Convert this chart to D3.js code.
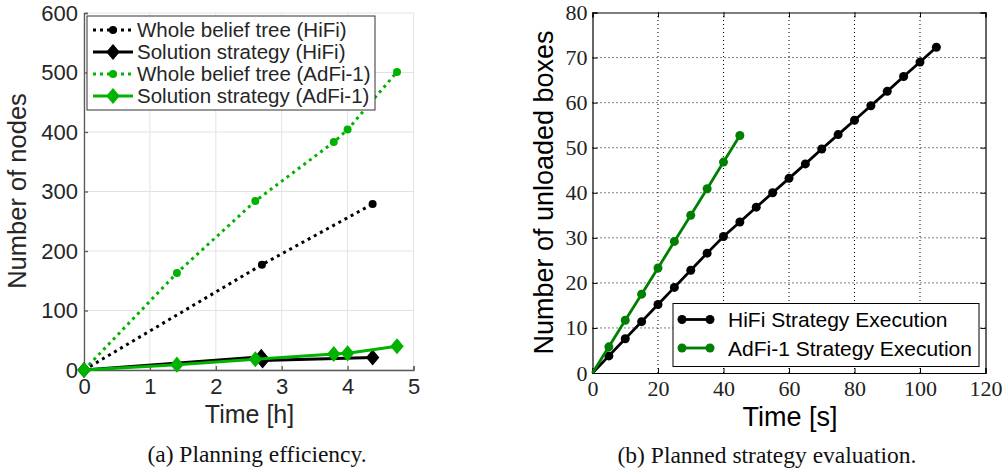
<!DOCTYPE html>
<html>
<head>
<meta charset="utf-8">
<title>Planning efficiency and strategy evaluation</title>
<script src="https://cdnjs.cloudflare.com/ajax/libs/d3/7.8.5/d3.min.js"></script>
<style>
  body { margin: 0; background: #fff; }
  svg { display: block; }
  .sans { font-family: "Liberation Sans", Arial, sans-serif; }
  .serif { font-family: "Liberation Serif", "Times New Roman", serif; }
</style>
</head>
<body>
<script>
// ---- panel (a) data: time [h] vs number of nodes
var hifiTreeT = [0, 2.7, 4.38];
var hifiTreeN = [0, 177, 279];
var hifiSolT = [0, 2.69, 2.71, 4.38];
var hifiSolN = [0, 22, 16, 21];
var adfiTreeT = [0, 1.41, 2.6, 3.79, 4.0, 4.75];
var adfiTreeN = [0, 163, 284, 383, 404, 501];
var adfiSolT = [0, 1.41, 2.6, 3.79, 4.0, 4.75];
var adfiSolN = [0, 9, 18, 27, 28, 40];
var aXTicks = [0, 1, 2, 3, 4, 5];
var aYTicks = [0, 100, 200, 300, 400, 500, 600];

// ---- panel (b) data: time [s] vs unloaded boxes
var hifiExecT = [0, 5, 10, 15, 20, 25, 30, 35, 40, 45, 50, 55, 60, 65, 70, 75, 80, 85, 90, 95, 100, 105];
var hifiExecB = [0, 3.8, 7.6, 11.4, 15.2, 19.0, 22.8, 26.6, 30.3, 33.5, 36.8, 40.0, 43.2, 46.4, 49.7, 52.9, 56.1, 59.3, 62.5, 65.8, 69.0, 72.3];
var adfiExecT = [0, 5, 10, 15, 20, 25, 30, 35, 40, 45];
var adfiExecB = [0, 5.8, 11.7, 17.5, 23.3, 29.2, 35.0, 40.9, 46.8, 52.7];
var bXTicks = [0, 20, 40, 60, 80, 100, 120];
var bYTicks = [0, 10, 20, 30, 40, 50, 60, 70, 80];

var zip = (xs, ys) => xs.map((x, i) => [x, ys[i]]);

const svg = d3.select("body").append("svg")
  .attr("width", 1007).attr("height", 471);

// ================= panel (a) =================
const ax = d3.scaleLinear().domain([0, 5]).range([84, 413.5]);
const ay = d3.scaleLinear().domain([0, 600]).range([370, 13]);
const ga = svg.append("g");
const axisGrey = "#5a5a5a";
const textGrey = "#262626";

// grid
ga.selectAll(".gx").data(aXTicks).enter().append("line")
  .attr("x1", d => ax(d)).attr("x2", d => ax(d))
  .attr("y1", ay(0)).attr("y2", ay(600))
  .attr("stroke", "#e3e3e3").attr("stroke-width", 1);
ga.selectAll(".gy").data(aYTicks).enter().append("line")
  .attr("x1", ax(0)).attr("x2", ax(5))
  .attr("y1", d => ay(d)).attr("y2", d => ay(d))
  .attr("stroke", "#e3e3e3").attr("stroke-width", 1);

// axes
const axB = ga.append("g").attr("transform", "translate(0," + ay(0) + ")")
  .call(d3.axisBottom(ax).tickValues(aXTicks).tickSize(-4).tickPadding(5).tickFormat(d3.format("d")));
const axL = ga.append("g").attr("transform", "translate(" + ax(0) + ",0)")
  .call(d3.axisLeft(ay).tickValues(aYTicks).tickSize(-4).tickPadding(6).tickFormat(d3.format("d")));
[axB, axL].forEach(g => {
  g.select(".domain").attr("stroke", axisGrey).attr("stroke-width", 1.3);
  g.selectAll(".tick line").attr("stroke", axisGrey).attr("stroke-width", 1.3);
  g.selectAll(".tick text").attr("class", "sans").attr("font-size", 22).attr("fill", textGrey);
});
axB.selectAll(".tick text").attr("dy", "0.85em");

const aLine = d3.line().x(d => ax(d[0])).y(d => ay(d[1]));
const greenA = "#00b300";
const diamond = d3.symbol().type(d3.symbolSquare).size(72);
const diamondTf = (x, y) => "translate(" + x + "," + y + ") scale(1,1.2) rotate(45)";

function seriesA(pts, color, dotted, marker) {
  ga.append("path").datum(pts).attr("d", aLine)
    .attr("fill", "none").attr("stroke", color).attr("stroke-width", 3)
    .attr("stroke-dasharray", dotted ? "3,4" : null);
  if (marker === "dot") {
    ga.selectAll(null).data(pts.slice(1)).enter().append("circle")
      .attr("cx", d => ax(d[0])).attr("cy", d => ay(d[1])).attr("r", 4).attr("fill", color);
  } else {
    ga.selectAll(null).data(pts).enter().append("path")
      .attr("d", diamond)
      .attr("transform", d => diamondTf(ax(d[0]), ay(d[1])))
      .attr("fill", color).attr("stroke", color).attr("stroke-width", 1);
  }
}
seriesA(zip(hifiTreeT, hifiTreeN), "#000", true, "dot");
seriesA(zip(hifiSolT, hifiSolN), "#000", false, "diamond");
seriesA(zip(adfiTreeT, adfiTreeN), greenA, true, "dot");
seriesA(zip(adfiSolT, adfiSolN), greenA, false, "diamond");

// axis titles
ga.append("text").attr("class", "sans").attr("font-size", 25).attr("fill", textGrey)
  .attr("text-anchor", "middle").attr("x", 249.5).attr("y", 423).text("Time [h]");
ga.append("text").attr("class", "sans").attr("font-size", 25.5).attr("fill", textGrey)
  .attr("text-anchor", "middle")
  .attr("transform", "translate(26," + 191 + ") rotate(-90)")
  .text("Number of nodes");

// legend (a)
const legA = [
  { label: "Whole belief tree (HiFi)", color: "#000", dotted: true, marker: "dot" },
  { label: "Solution strategy (HiFi)", color: "#000", dotted: false, marker: "diamond" },
  { label: "Whole belief tree (AdFi-1)", color: greenA, dotted: true, marker: "dot" },
  { label: "Solution strategy (AdFi-1)", color: greenA, dotted: false, marker: "diamond" }
];
const lg = ga.append("g");
lg.append("rect").attr("x", 87).attr("y", 16).attr("width", 288).attr("height", 94)
  .attr("fill", "#fff").attr("stroke", "#333").attr("stroke-width", 1);
legA.forEach((d, i) => {
  const y = 30 + i * 22;
  lg.append("line").attr("x1", 93).attr("x2", 133).attr("y1", y).attr("y2", y)
    .attr("stroke", d.color).attr("stroke-width", 3)
    .attr("stroke-dasharray", d.dotted ? "3,4" : null);
  if (d.marker === "dot") {
    lg.append("circle").attr("cx", 113).attr("cy", y).attr("r", 4).attr("fill", d.color);
  } else {
    lg.append("path").attr("d", diamond)
      .attr("transform", diamondTf(113, y))
      .attr("fill", d.color).attr("stroke", d.color);
  }
  lg.append("text").attr("class", "sans").attr("font-size", 20.5).attr("fill", textGrey)
    .attr("x", 137).attr("y", y + 7).text(d.label);
});

// caption (a)
svg.append("text").attr("class", "serif").attr("font-size", 23.5).attr("fill", "#111")
  .attr("text-anchor", "middle").attr("x", 257).attr("y", 462).text("(a) Planning efficiency.");

// ================= panel (b) =================
const bx = d3.scaleLinear().domain([0, 120]).range([592.5, 985.5]);
const by = d3.scaleLinear().domain([0, 80]).range([373, 12.5]);
const gb = svg.append("g");

// dotted grid
gb.selectAll(null).data(bXTicks.slice(1, -1)).enter().append("line")
  .attr("x1", d => bx(d)).attr("x2", d => bx(d)).attr("y1", by(0)).attr("y2", by(80))
  .attr("stroke", "#000").attr("stroke-width", 1).attr("stroke-dasharray", "1,3");
gb.selectAll(null).data(bYTicks.slice(1, -1)).enter().append("line")
  .attr("x1", bx(0)).attr("x2", bx(120)).attr("y1", d => by(d)).attr("y2", d => by(d))
  .attr("stroke", "#000").attr("stroke-width", 1).attr("stroke-dasharray", "1,3");

// axes with inward ticks on all sides
const bB = gb.append("g").attr("transform", "translate(0," + by(0) + ")")
  .call(d3.axisBottom(bx).tickValues(bXTicks).tickSize(-5).tickPadding(5));
const bL = gb.append("g").attr("transform", "translate(" + bx(0) + ",0)")
  .call(d3.axisLeft(by).tickValues(bYTicks).tickSize(-5).tickPadding(5));
const bT = gb.append("g").attr("transform", "translate(0," + by(80) + ")")
  .call(d3.axisTop(bx).tickValues(bXTicks).tickSize(-5).tickFormat(""));
const bR = gb.append("g").attr("transform", "translate(" + bx(120) + ",0)")
  .call(d3.axisRight(by).tickValues(bYTicks).tickSize(-5).tickFormat(""));
[bB, bL, bT, bR].forEach(g => {
  g.select(".domain").attr("stroke", "#000").attr("stroke-width", 1.2);
  g.selectAll(".tick line").attr("stroke", "#000").attr("stroke-width", 1);
  g.selectAll(".tick text").attr("class", "serif").attr("font-size", 22).attr("fill", "#222");
});
bB.selectAll(".tick text").attr("dy", "0.8em");

const bLine = d3.line().x(d => bx(d[0])).y(d => by(d[1]));
const greenB = "#008000";
function seriesB(pts, color) {
  gb.append("path").datum(pts).attr("d", bLine)
    .attr("fill", "none").attr("stroke", color).attr("stroke-width", 2.8);
  gb.selectAll(null).data(pts.slice(1)).enter().append("circle")
    .attr("cx", d => bx(d[0])).attr("cy", d => by(d[1])).attr("r", 4.5).attr("fill", color);
}
seriesB(zip(hifiExecT, hifiExecB), "#000");
seriesB(zip(adfiExecT, adfiExecB), greenB);

gb.append("text").attr("class", "sans").attr("font-size", 27).attr("fill", "#000")
  .attr("text-anchor", "middle").attr("x", 790).attr("y", 426).text("Time [s]");
gb.append("text").attr("class", "sans").attr("font-size", 27).attr("fill", "#000")
  .attr("text-anchor", "middle")
  .attr("transform", "translate(553," + 192.5 + ") rotate(-90)")
  .text("Number of unloaded boxes");

// legend (b)
const legB = [
  { label: "HiFi Strategy Execution", color: "#000" },
  { label: "AdFi-1 Strategy Execution", color: greenB }
];
const lb = gb.append("g");
lb.append("rect").attr("x", 673).attr("y", 303.5).attr("width", 306).attr("height", 63)
  .attr("fill", "#fff").attr("stroke", "#000").attr("stroke-width", 1);
legB.forEach((d, i) => {
  const y = 319.5 + i * 28.5;
  lb.append("line").attr("x1", 682).attr("x2", 710).attr("y1", y).attr("y2", y)
    .attr("stroke", d.color).attr("stroke-width", 2.8);
  [682, 710].forEach(cx => lb.append("circle").attr("cx", cx).attr("cy", y).attr("r", 4.5).attr("fill", d.color));
  lb.append("text").attr("class", "sans").attr("font-size", 21).attr("fill", "#000")
    .attr("x", 728).attr("y", y + 7.5).text(d.label);
});

// caption (b)
svg.append("text").attr("class", "serif").attr("font-size", 23.5).attr("fill", "#111")
  .attr("text-anchor", "middle").attr("x", 767).attr("y", 463).text("(b) Planned strategy evaluation.");
</script>
</body>
</html>
